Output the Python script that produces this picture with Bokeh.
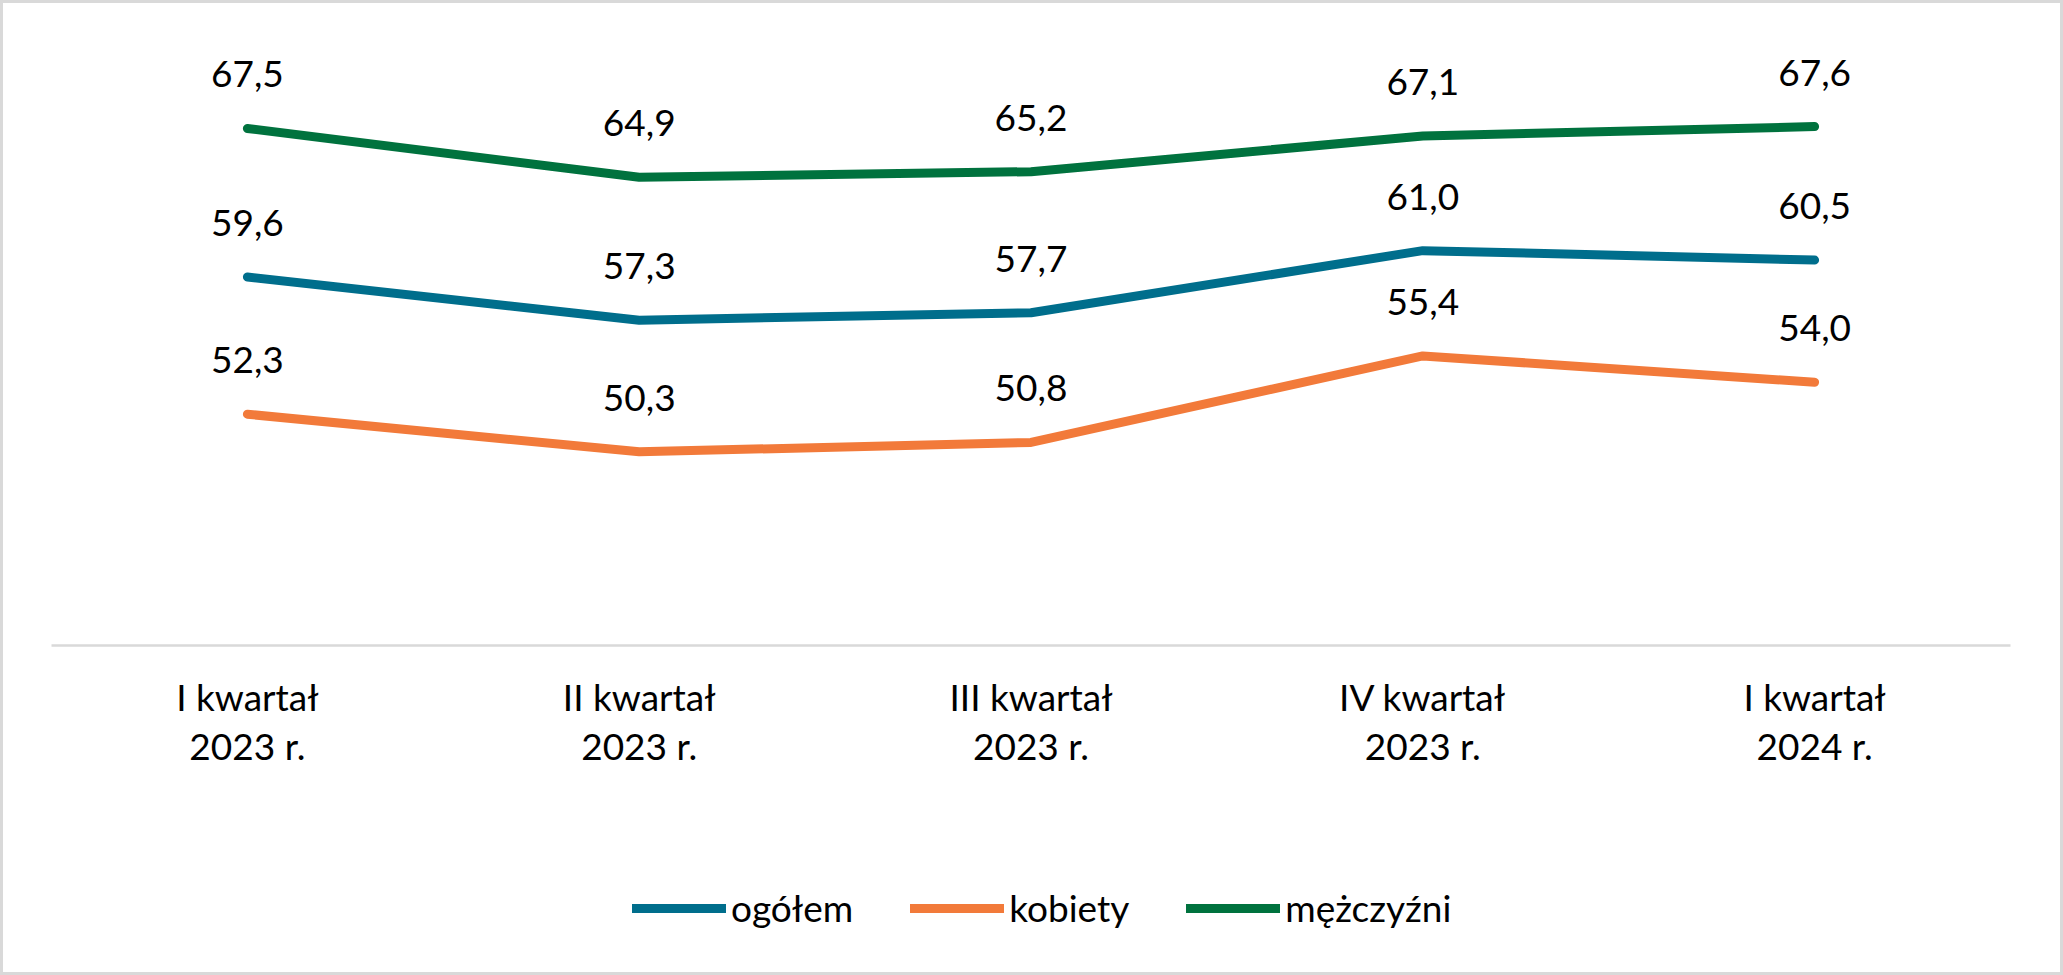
from bokeh.plotting import figure
from bokeh.models import (Range1d, LinearAxis, FixedTicker, Legend, LegendItem,
                          ColumnDataSource)
from bokeh.layouts import column
from bokeh.core.properties import value
from bokeh.embed import file_html
from bokeh.resources import INLINE

categories = ["I kwartał\n2023 r.", "II kwartał\n2023 r.", "III kwartał\n2023 r.",
              "IV kwartał\n2023 r.", "I kwartał\n2024 r."]
ogolem = [59.6, 57.3, 57.7, 61.0, 60.5]
kobiety = [52.3, 50.3, 50.8, 55.4, 54.0]
mezczyzni = [67.5, 64.9, 65.2, 67.1, 67.6]

series = [
    ("ogółem", ogolem, "#006E8C"),
    ("kobiety", kobiety, "#F27A3A"),
    ("mężczyźni", mezczyzni, "#00723E"),
]

FONT = "Lato"
FS = "37px"
LW = 9
W = 2057

p = figure(width=W, height=841, output_backend="svg", toolbar_location=None,
           x_range=Range1d(-0.5, 4.5), y_range=Range1d(40, 73.24),
           x_axis_location=None, y_axis_location=None,
           min_border_left=48, min_border_right=50, min_border_top=17,
           min_border_bottom=199)
p.xgrid.visible = False
p.ygrid.visible = False
p.outline_line_color = None
p.background_fill_color = "white"
p.border_fill_color = "white"

xs = list(range(len(categories)))

xaxis = LinearAxis(ticker=FixedTicker(ticks=xs),
                   major_label_overrides={i: c for i, c in enumerate(categories)})
xaxis.axis_line_color = "#d9d9d9"
xaxis.axis_line_width = 2.5
xaxis.major_tick_line_color = None
xaxis.minor_tick_line_color = None
xaxis.major_label_text_font = FONT
xaxis.major_label_text_font_size = FS
xaxis.major_label_text_color = "black"
xaxis.major_label_standoff = 22
xaxis.major_label_text_line_height = 1.1
p.add_layout(xaxis, "below")

for name, vals, color in series:
    src = ColumnDataSource(dict(x=xs, y=vals,
                                lbl=[f"{v:.1f}".replace(".", ",") for v in vals]))
    p.line("x", "y", source=src, line_color=color, line_width=LW,
           line_cap="round", line_join="round")
    p.text("x", "y", text="lbl", source=src, text_align="center",
           text_baseline="alphabetic", y_offset=-54,
           text_font=value(FONT), text_font_size=FS, text_color="black")

# legend panel
pl = figure(width=W, height=128, output_backend="svg", toolbar_location=None,
            x_range=Range1d(0, 1), y_range=Range1d(0, 1),
            x_axis_location=None, y_axis_location=None,
            min_border_left=48, min_border_right=50, min_border_top=0,
            min_border_bottom=0)
pl.xgrid.visible = False
pl.ygrid.visible = False
pl.outline_line_color = None
pl.border_fill_color = "white"

nan = float("nan")
items = []
for name, vals, color in series:
    r = pl.line(x=[nan, nan], y=[nan, nan], line_color=color, line_width=LW,
                line_cap="round")
    items.append(LegendItem(label=name, renderers=[r]))

legend = Legend(items=items, orientation="horizontal", location=(581, 42))
legend.label_text_font = FONT
legend.label_text_font_size = FS
legend.label_text_color = "black"
legend.glyph_width = 94
legend.glyph_height = 30
legend.label_standoff = 5
legend.spacing = 57
legend.border_line_color = None
legend.background_fill_alpha = 0
legend.margin = 0
legend.padding = 0
pl.add_layout(legend, "center")

layout = column(p, pl, spacing=0)
layout.styles = {"border": "3px solid #d9d9d9"}

open("out.html", "w").write(file_html(layout, INLINE))
